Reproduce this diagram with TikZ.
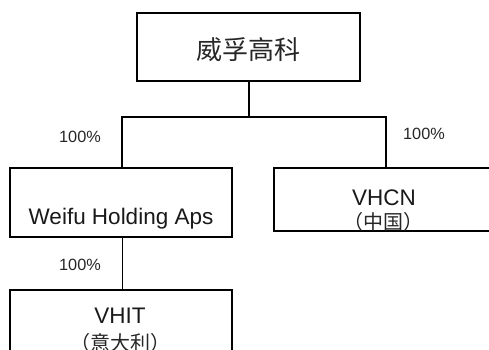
\documentclass[tikz,border=0pt]{standalone}
\usepackage{fontspec}
\setmainfont{Liberation Sans}
\newfontfamily\cjk{Noto Sans CJK SC}
\begin{document}
\begin{tikzpicture}[x=1pt,y=-1pt,
  box/.style={draw, line width=1.4pt, inner sep=0pt, rectangle},
  conn/.style={line width=1.3pt},
  thinconn/.style={line width=0.9pt},
  pct/.style={font=\fontsize{16.3}{19}\selectfont, inner sep=0pt, text=black!85},
  lat/.style={font=\fontsize{22.5}{26}\selectfont, inner sep=0pt, anchor=base, text=black!90},
  zh/.style={font=\cjk\fontsize{20}{24}\selectfont, inner sep=0pt, anchor=base, text=black!85},
  zhbig/.style={font=\cjk\fontsize{26}{30}\selectfont, inner sep=0pt, anchor=base, text=black!85}]
\useasboundingbox (0,0) rectangle (489,349);
\clip (0,0) rectangle (489,349);
% boxes
\node[box, minimum width=223pt, minimum height=68pt] (top) at (248.5,47) {};
\node[box, minimum width=222pt, minimum height=69pt] (weifu) at (121,202.5) {};
\node[box, minimum width=220pt, minimum height=63pt] (vhcn) at (384,199.5) {};
\node[box, minimum width=222pt, minimum height=70pt] (vhit) at (121,325) {};
% texts
\node[zhbig] (toptext) at (248.5,59) {威孚高科};
\node[lat] (weifutext) at (121,224) {Weifu Holding Aps};
\node[lat] (vhcntext) at (384,205) {VHCN};
\node[zh] (vhcnzh) at (383,229.5) {（中国）};
\node[lat] (vhittext) at (120,323) {VHIT};
\node[zh] (vhitzh) at (120,350) {（意大利）};
% connectors
\coordinate (j) at (249,117);
\coordinate (jl) at (122,117);
\coordinate (jr) at (386,117);
\coordinate (lx) at (122,250);
\draw[conn] (top.south -| j) -- (j);
\draw[conn] (weifu.north -| jl) -- (jl) -- (jr) -- (vhcn.north -| jr);
\draw[thinconn] (weifu.south -| lx) -- (vhit.north -| lx);
% labels
\node[pct] (p1) at (80,136.5) {100\%};
\node[pct] (p2) at (424,133.5) {100\%};
\node[pct] (p3) at (80,265) {100\%};
\end{tikzpicture}
\end{document}
